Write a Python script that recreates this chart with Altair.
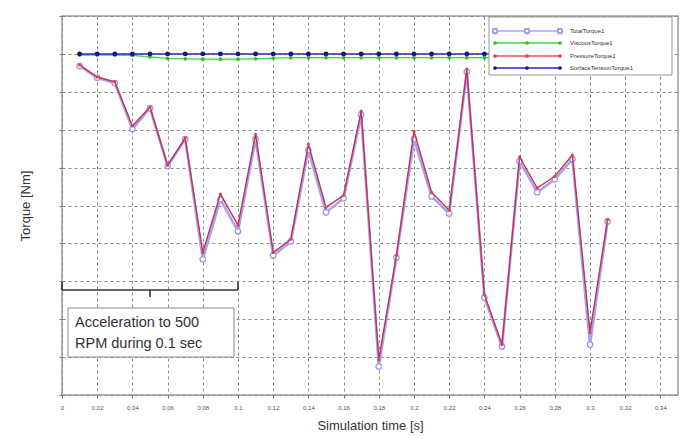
import altair as alt
import pandas as pd

# ---- data ----
time = [0.01, 0.02, 0.03, 0.04, 0.05, 0.06, 0.07, 0.08, 0.09, 0.10,
        0.11, 0.12, 0.13, 0.14, 0.15, 0.16, 0.17, 0.18, 0.19, 0.20,
        0.21, 0.22, 0.23, 0.24, 0.25, 0.26, 0.27, 0.28, 0.29, 0.30, 0.31]
total = [-0.32, -0.63, -0.77, -1.98, -1.43, -2.96, -2.25, -5.42, -3.84, -4.68,
         -2.25, -5.32, -4.95, -2.54, -4.18, -3.81, -1.61, -8.25, -5.37, -2.25,
         -3.76, -4.21, -0.48, -6.43, -7.72, -2.83, -3.65, -3.31, -2.78, -7.67, -4.42]
pressure = [-0.29, -0.61, -0.74, -1.90, -1.40, -2.94, -2.22, -5.24, -3.70, -4.52,
            -2.12, -5.24, -4.89, -2.38, -4.05, -3.73, -1.51, -8.07, -5.32, -2.04,
            -3.65, -4.13, -0.40, -6.35, -7.67, -2.72, -3.54, -3.23, -2.67, -7.35, -4.37]
viscous = [-0.03, -0.03, -0.03, -0.04, -0.08, -0.12, -0.13, -0.14, -0.14, -0.14,
           -0.13, -0.11, -0.10, -0.10, -0.10, -0.10, -0.10, -0.10, -0.10, -0.10,
           -0.10, -0.10, -0.10, -0.10, -0.10, -0.10, -0.10, -0.10, -0.10, -0.10, -0.10]
surface = [0.0, 0.0, 0.0, 0.0, 0.0, 0.0, 0.0, 0.0, 0.0, 0.0,
           0.0, 0.0, 0.0, 0.0, 0.0, 0.0, 0.0, 0.0, 0.0, 0.0,
           0.0, 0.0, 0.0, 0.0, 0.0, 0.0, 0.0, 0.0, 0.0, 0.0, 0.0]

series_names = ["TotalTorque1", "ViscousTorque1", "PressureTorque1", "SurfaceTensionTorque1"]
series_colors = ["#a4a4f4", "#3fd43f", "#e0505a", "#2a2ab8"]
x_ticks = [0, 0.02, 0.04, 0.06, 0.08, 0.1, 0.12, 0.14, 0.16, 0.18,
           0.2, 0.22, 0.24, 0.26, 0.28, 0.3, 0.32, 0.34]
y_grid = [-9, -8, -7, -6, -5, -4, -3, -2, -1, 0, 1]
note_lines = ["Acceleration to 500", "RPM during 0.1 sec"]

# ---- layout helpers (plot area 616 x 379 px) ----
W, H = 616, 379
X0, X1 = 0.0, 0.35
Y0, Y1 = -9.0, 1.0


def px_x(px):
    return X0 + px / W * (X1 - X0)


def px_y(py):
    return Y1 - py / H * (Y1 - Y0)


df = pd.DataFrame({"t": time, "TotalTorque1": total, "PressureTorque1": pressure,
                   "ViscousTorque1": viscous, "SurfaceTensionTorque1": surface})
long = df.melt("t", var_name="x", value_name="y").rename(columns={"x": "series"})
long = long.rename(columns={"t": "x"})

xs = alt.Scale(domain=[X0, X1], nice=False, zero=False)
ys = alt.Scale(domain=[Y0, Y1], nice=False, zero=False)
x_axis = alt.Axis(
    values=x_ticks, format=".2~f", grid=True, gridDash=[3, 3], gridColor="#8a8a8a",
    gridWidth=1, labelFontSize=6, labelColor="#555", tickColor="#777", tickSize=3,
    labelOverlap=False, labelFlush=False,
    domain=False, title="Simulation time [s]", titleFontSize=13, titleFontWeight="normal",
    titleColor="#333", titlePadding=9, labelPadding=6)
y_axis = alt.Axis(
    values=y_grid, labels=False, grid=True, gridDash=[3, 3], gridColor="#8a8a8a",
    gridWidth=1, tickColor="#777", tickSize=3, domain=False,
    title="Torque [Nm]", titleFontSize=13, titleFontWeight="normal", titleColor="#333",
    titlePadding=26)


def X(field="x"):
    return alt.X(field + ":Q", scale=xs, axis=x_axis)


def Y(field="y"):
    return alt.Y(field + ":Q", scale=ys, axis=y_axis)


def series_layer(name, color, width, point_props):
    base = alt.Chart(long).transform_filter(alt.datum.series == name)
    line = base.mark_line(color=color, strokeWidth=width).encode(x=X(), y=Y())
    pts = base.mark_point(**point_props).encode(x=X(), y=Y())
    return line + pts


visc = series_layer("ViscousTorque1", series_colors[1], 1.2,
                    dict(filled=True, color="#2fbf2f", size=14, opacity=1))
surf = series_layer("SurfaceTensionTorque1", series_colors[3], 1.5,
                    dict(filled=True, color="#141490", size=24, opacity=1))
tot = series_layer("TotalTorque1", series_colors[0], 2.6,
                   dict(filled=True, fill="white", stroke="#9a9af0", strokeWidth=1.3, size=30, opacity=1))
pres = series_layer("PressureTorque1", "#c83050", 1.4,
                    dict(filled=True, color="#e04050", size=10, opacity=1))

# ---- annotation: brace and text box ----
brace_y = px_y(274)
brace = pd.DataFrame({
    "x": [0.0, 0.0, 0.1, 0.05],
    "x2": [0.0, 0.1, 0.1, 0.05],
    "y": [px_y(266), brace_y, px_y(266), brace_y],
    "y2": [brace_y, brace_y, brace_y, px_y(281)],
})
brace_l = alt.Chart(brace).mark_rule(color="#333", strokeWidth=1.6).encode(
    x=X(), x2="x2:Q", y=Y(), y2="y2:Q")

box = pd.DataFrame({"x": [px_x(6)], "x2": [px_x(172)], "y": [px_y(292)], "y2": [px_y(341)]})
box_l = alt.Chart(box).mark_rect(fill="white", stroke="#8a8a8a", strokeWidth=1).encode(
    x=X(), x2="x2:Q", y=Y(), y2="y2:Q")
notes = pd.DataFrame({"x": [px_x(13), px_x(13)], "y": [px_y(307), px_y(328)], "txt": note_lines})
note_l = alt.Chart(notes).mark_text(align="left", baseline="middle", fontSize=14.5,
                                    font="Liberation Sans", color="#333").encode(
    x=X(), y=Y(), text="txt:N")

# ---- legend (drawn manually) ----
lg_box = pd.DataFrame({"x": [px_x(427)], "x2": [px_x(610)], "y": [px_y(1)], "y2": [px_y(59)]})
lg_box_l = alt.Chart(lg_box).mark_rect(fill="white", stroke="#999", strokeWidth=1).encode(
    x=X(), x2="x2:Q", y=Y(), y2="y2:Q")
rows_y = [15, 27, 40, 52]
rows = []
for i, name in enumerate(series_names):
    for px in [433, 465, 498]:
        rows.append({"series": name, "x": px_x(px), "y": px_y(rows_y[i])})
lg = pd.DataFrame(rows)
lg_text = pd.DataFrame({"series": series_names, "x": [px_x(508)] * 4, "y": [px_y(r) for r in rows_y]})
cscale = alt.Scale(domain=series_names, range=series_colors)
lg_lines = alt.Chart(lg).mark_line(strokeWidth=1.3).encode(
    x=X(), y=Y(), detail="series:N", color=alt.Color("series:N", scale=cscale, legend=None))
lg_pts_total = alt.Chart(lg).transform_filter(alt.datum.series == "TotalTorque1").mark_point(
    filled=True, fill="white", stroke="#9a9af0", size=22, opacity=1).encode(x=X(), y=Y())
lg_pts_other = alt.Chart(lg).transform_filter(alt.datum.series != "TotalTorque1").mark_point(
    filled=True, size=14, opacity=1).encode(
    x=X(), y=Y(), color=alt.Color("series:N", scale=alt.Scale(
        domain=series_names, range=["#9a9af0", "#2fbf2f", "#e04050", "#141490"]), legend=None))
lg_txt = alt.Chart(lg_text).mark_text(align="left", baseline="middle", fontSize=6,
                                      color="#333").encode(x=X(), y=Y(), text="series:N")

chart = alt.layer(
    visc, surf, tot, pres, brace_l, box_l, note_l,
    lg_box_l, lg_lines, lg_pts_total, lg_pts_other, lg_txt
).resolve_scale(color="independent").properties(
    width=W, height=H,
    autosize=alt.AutoSizeParams(type="none"),
    padding={"left": 62, "top": 16, "right": 15, "bottom": 44},
    background="white",
).configure_view(stroke="#9a9a9a", strokeWidth=1.5).configure_axis(
    labelFont="Liberation Sans", titleFont="Liberation Sans")

chart.save("out.html", embed_options={"renderer": "svg", "actions": False})
